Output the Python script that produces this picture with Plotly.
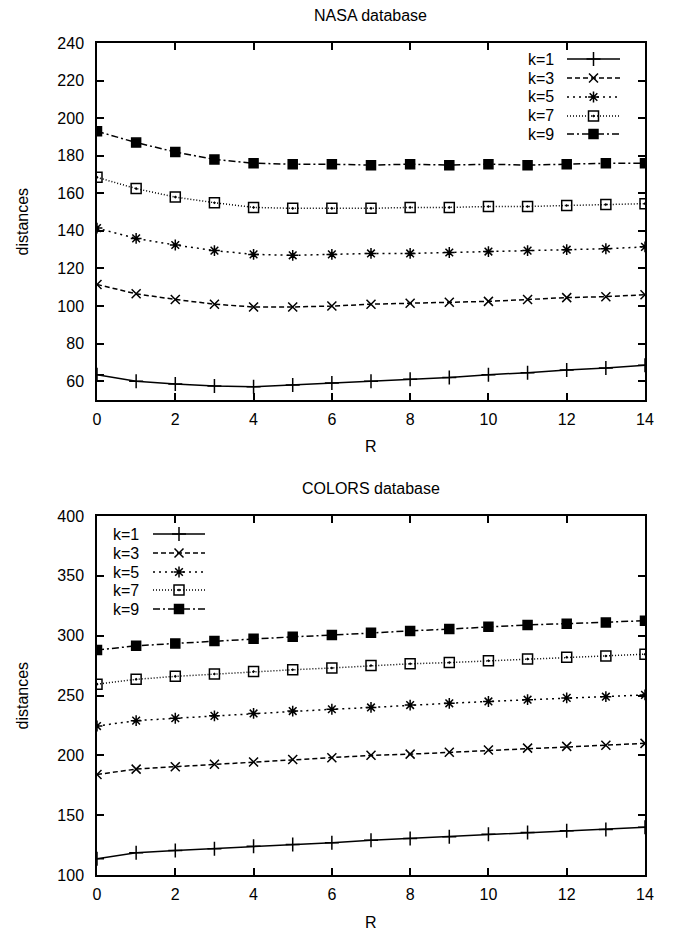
import plotly.graph_objects as go

W, H = 675, 932

R = list(range(15))
labels = ["k=1", "k=3", "k=5", "k=7", "k=9"]

nasa_k1 = [63.5, 60, 58.5, 57.5, 57, 58, 59, 60, 61, 62, 63.5, 64.5, 66, 67, 68.5]
nasa_k3 = [111.5, 106.5, 103.5, 101, 99.5, 99.5, 100, 101, 101.5, 102, 102.5, 103.5, 104.5, 105, 106]
nasa_k5 = [141.5, 136, 132.5, 129.5, 127.5, 127, 127.5, 128, 128, 128.5, 129, 129.5, 130, 130.5, 131.5]
nasa_k7 = [168.5, 162.5, 158, 155, 152.5, 152, 152, 152, 152.5, 152.5, 153, 153, 153.5, 154, 154.5]
nasa_k9 = [193, 187, 182, 178, 176, 175.5, 175.5, 175, 175.5, 175, 175.5, 175, 175.5, 176, 176]

colors_k1 = [113.5, 118.5, 120.5, 122, 124, 125.5, 127, 129, 130.5, 132, 134, 135.5, 137, 138, 140]
colors_k3 = [184, 188.5, 190.5, 192.5, 194.5, 196.5, 198, 200, 201, 202.5, 204.5, 206, 207.5, 208.5, 210]
colors_k5 = [224.5, 229, 231, 233, 235, 237, 238.5, 240, 242, 243.5, 245, 246.5, 248, 249, 250.5]
colors_k7 = [259.5, 263.5, 266, 268, 270, 271.5, 273, 275, 276.5, 277.5, 279, 280.5, 282, 283, 284.5]
colors_k9 = [288, 291.5, 293.5, 295.5, 297.5, 299, 300.5, 302.5, 304, 305.5, 307.5, 309, 310, 311, 312.5]

nasa = [nasa_k1, nasa_k3, nasa_k5, nasa_k7, nasa_k9]
colors = [colors_k1, colors_k3, colors_k5, colors_k7, colors_k9]

styles = [
    dict(dash="solid", symbol="cross-thin-open", size=10),
    dict(dash="5px,3px", symbol="x-thin-open", size=9),
    dict(dash="2px,4px", symbol="asterisk-open", size=9),
    dict(dash="1px,2px", symbol="square-open-dot", size=10),
    dict(dash="7px,3px,2px,3px", symbol="square", size=9),
]

FONT = "Liberation Sans, Arial, sans-serif"
FS = 16
LW = 1.5

# pixel layout of the two plot areas
X0, X1 = 97, 645
TOP = (43, 400)
BOT = (516, 875)

def px_x(p):
    return p / W

def px_y(p):
    return 1 - p / H

fig = go.Figure()

def add_series(data, xa, ya):
    for lab, vals, st in zip(labels, data, styles):
        fig.add_trace(go.Scatter(
            x=R, y=vals, mode="lines+markers", name=lab, showlegend=False,
            xaxis=xa, yaxis=ya,
            line=dict(color="black", width=LW, dash=st["dash"]),
            marker=dict(symbol=st["symbol"], size=st["size"], color="black",
                        line=dict(color="black", width=LW)),
        ))

add_series(nasa, "x", "y")
add_series(colors, "x2", "y2")

# custom gnuplot-style legends (text, then sample line with marker), in pixel space
def add_legend(text_right, line_x0, line_x1, ys):
    for lab, st, yy in zip(labels, styles, ys):
        fig.add_annotation(text=lab, xref="paper", yref="paper",
                           x=px_x(text_right), y=px_y(yy), xanchor="right",
                           yanchor="middle", showarrow=False,
                           font=dict(family=FONT, size=FS, color="black"))
        fig.add_trace(go.Scatter(
            x=[line_x0, line_x1], y=[yy, yy], mode="lines", showlegend=False,
            xaxis="x3", yaxis="y3", hoverinfo="skip",
            line=dict(color="black", width=LW, dash=st["dash"])))
        fig.add_trace(go.Scatter(
            x=[(line_x0 + line_x1) / 2], y=[yy], mode="markers", showlegend=False,
            xaxis="x3", yaxis="y3", hoverinfo="skip",
            marker=dict(symbol=st["symbol"], size=st["size"], color="black",
                        line=dict(color="black", width=LW))))

add_legend(556, 567, 620, [59, 78, 97, 116, 134])
add_legend(141, 153, 205, [534, 553, 572, 590, 609])

axis_common = dict(showline=True, linecolor="black", linewidth=LW, mirror="ticks",
                   ticks="inside", ticklen=7, tickwidth=LW, tickcolor="black",
                   showgrid=False, zeroline=False, automargin=False,
                   tickfont=dict(family=FONT, size=FS, color="black"))

fig.update_layout(
    width=W, height=H,
    margin=dict(l=0, r=0, t=0, b=0),
    paper_bgcolor="white", plot_bgcolor="rgba(0,0,0,0)",
    showlegend=False,
    xaxis=dict(domain=[px_x(X0), px_x(X1)], anchor="y", range=[0, 14],
               tickvals=list(range(0, 15, 2)), ticklabelstandoff=4, **axis_common),
    yaxis=dict(domain=[px_y(TOP[1]), px_y(TOP[0])], anchor="x", range=[50, 240],
               tickvals=list(range(60, 241, 20)), ticklabelstandoff=8, **axis_common),
    xaxis2=dict(domain=[px_x(X0), px_x(X1)], anchor="y2", range=[0, 14],
                tickvals=list(range(0, 15, 2)), ticklabelstandoff=4, **axis_common),
    yaxis2=dict(domain=[px_y(BOT[1]), px_y(BOT[0])], anchor="x2", range=[100, 400],
                tickvals=list(range(100, 401, 50)), ticklabelstandoff=8, **axis_common),
    xaxis3=dict(domain=[0, 1], anchor="y3", range=[0, W], visible=False, fixedrange=True),
    yaxis3=dict(domain=[0, 1], anchor="x3", range=[H, 0], visible=False, fixedrange=True),
)

def text(t, x, y, angle=0):
    fig.add_annotation(text=t, xref="paper", yref="paper", x=px_x(x), y=px_y(y),
                       xanchor="center", yanchor="middle", showarrow=False,
                       textangle=angle, font=dict(family=FONT, size=FS, color="black"))

text("NASA database", (X0 + X1) / 2, 15)
text("R", (X0 + X1) / 2, 446)
text("distances", 22, (TOP[0] + TOP[1]) / 2, -90)
text("COLORS database", (X0 + X1) / 2, 488)
text("R", (X0 + X1) / 2, 922)
text("distances", 22, (BOT[0] + BOT[1]) / 2, -90)

fig.write_html("out.html")
